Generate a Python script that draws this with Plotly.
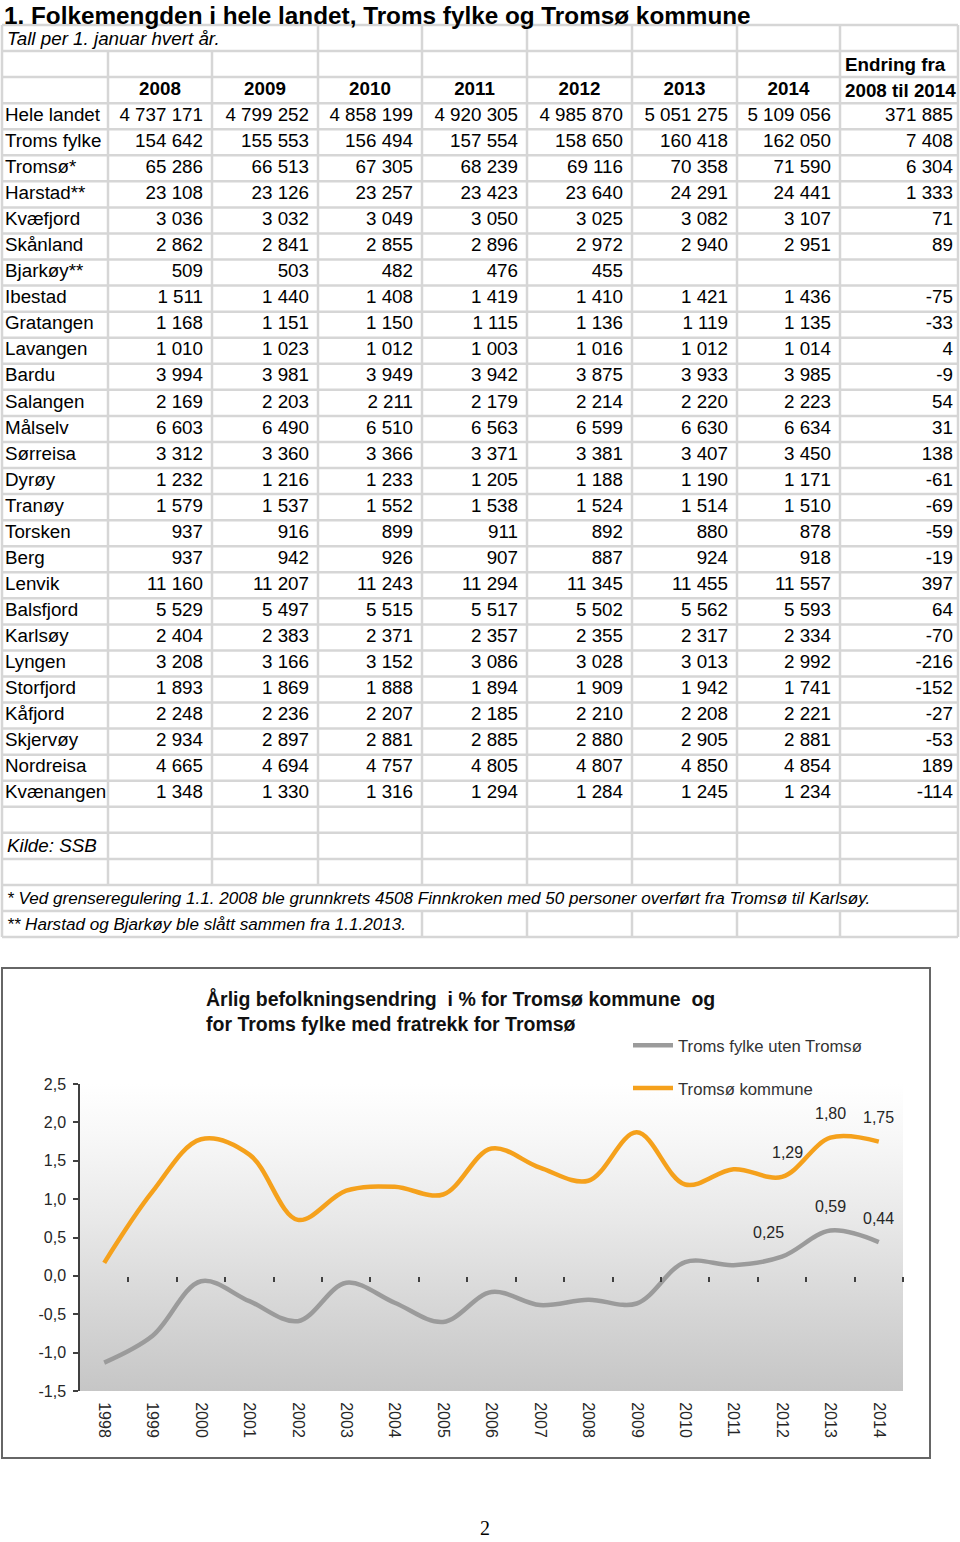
import plotly.graph_objects as go

# ---------------- data: table ----------------
table_title = "1. Folkemengden i hele landet, Troms fylke og Tromsø kommune"
table_subtitle = "Tall per 1. januar hvert år."
year_headers = ["2008", "2009", "2010", "2011", "2012", "2013", "2014"]
change_header = ["Endring fra", "2008 til 2014"]
municipalities = ["Hele landet", "Troms fylke", "Tromsø*", "Harstad**", "Kvæfjord", "Skånland",
                  "Bjarkøy**", "Ibestad", "Gratangen", "Lavangen", "Bardu", "Salangen", "Målselv",
                  "Sørreisa", "Dyrøy", "Tranøy", "Torsken", "Berg", "Lenvik", "Balsfjord", "Karlsøy",
                  "Lyngen", "Storfjord", "Kåfjord", "Skjervøy", "Nordreisa", "Kvænangen"]
pop_2008 = [4737171, 154642, 65286, 23108, 3036, 2862, 509, 1511, 1168, 1010, 3994, 2169, 6603, 3312,
            1232, 1579, 937, 937, 11160, 5529, 2404, 3208, 1893, 2248, 2934, 4665, 1348]
pop_2009 = [4799252, 155553, 66513, 23126, 3032, 2841, 503, 1440, 1151, 1023, 3981, 2203, 6490, 3360,
            1216, 1537, 916, 942, 11207, 5497, 2383, 3166, 1869, 2236, 2897, 4694, 1330]
pop_2010 = [4858199, 156494, 67305, 23257, 3049, 2855, 482, 1408, 1150, 1012, 3949, 2211, 6510, 3366,
            1233, 1552, 899, 926, 11243, 5515, 2371, 3152, 1888, 2207, 2881, 4757, 1316]
pop_2011 = [4920305, 157554, 68239, 23423, 3050, 2896, 476, 1419, 1115, 1003, 3942, 2179, 6563, 3371,
            1205, 1538, 911, 907, 11294, 5517, 2357, 3086, 1894, 2185, 2885, 4805, 1294]
pop_2012 = [4985870, 158650, 69116, 23640, 3025, 2972, 455, 1410, 1136, 1016, 3875, 2214, 6599, 3381,
            1188, 1524, 892, 887, 11345, 5502, 2355, 3028, 1909, 2210, 2880, 4807, 1284]
pop_2013 = [5051275, 160418, 70358, 24291, 3082, 2940, None, 1421, 1119, 1012, 3933, 2220, 6630, 3407,
            1190, 1514, 880, 924, 11455, 5562, 2317, 3013, 1942, 2208, 2905, 4850, 1245]
pop_2014 = [5109056, 162050, 71590, 24441, 3107, 2951, None, 1436, 1135, 1014, 3985, 2223, 6634, 3450,
            1171, 1510, 878, 918, 11557, 5593, 2334, 2992, 1741, 2221, 2881, 4854, 1234]
change_2008_2014 = [371885, 7408, 6304, 1333, 71, 89, None, -75, -33, 4, -9, 54, 31, 138, -61, -69,
                    -59, -19, 397, 64, -70, -216, -152, -27, -53, 189, -114]
source_text = "Kilde: SSB"
footnotes = ["* Ved grenseregulering 1.1. 2008 ble grunnkrets 4508 Finnkroken med 50 personer overført fra Tromsø til Karlsøy.",
             "** Harstad og Bjarkøy ble slått sammen fra 1.1.2013."]

# ---------------- data: chart ----------------
chart_title = "Årlig befolkningsendring\u00a0 i % for Tromsø kommune\u00a0 og<br>for Troms fylke med fratrekk for Tromsø"
chart_years = ["1998", "1999", "2000", "2001", "2002", "2003", "2004", "2005", "2006",
               "2007", "2008", "2009", "2010", "2011", "2012", "2013", "2014"]
troms_uten_pct = [-1.13, -0.78, -0.07, -0.33, -0.59, -0.09, -0.35, -0.60, -0.21,
                  -0.38, -0.31, -0.36, 0.18, 0.14, 0.25, 0.59, 0.44]
tromso_pct = [0.17, 1.10, 1.78, 1.58, 0.73, 1.11, 1.16, 1.06, 1.66,
              1.41, 1.24, 1.87, 1.19, 1.39, 1.29, 1.80, 1.75]
series_names = ["Troms fylke uten Tromsø", "Tromsø kommune"]
y_tick_vals = [-1.5, -1.0, -0.5, 0.0, 0.5, 1.0, 1.5, 2.0, 2.5]
y_tick_text = ["-1,5", "-1,0", "-0,5", "0,0", "0,5", "1,0", "1,5", "2,0", "2,5"]
labelled_years = ["2012", "2013", "2014"]
page_number = "2"

# ---------------- layout constants ----------------
W, H = 960, 1542
FONT = "Liberation Sans, Arial, sans-serif"
GRID = "#d6d6d6"
COL_EDGES = [2, 108, 212, 318, 422, 527, 632, 737, 840, 958]
ROW_TOP, ROW_H, N_ROWS = 25, 26.06, 35
TABLE_BOTTOM = 950
FIRST_DATA_ROW = 3
TS = 18.8


def py(p):
    return 1 - p / H


def row_y(r):
    return ROW_TOP + ROW_H * r


def row_c(r):
    return ROW_TOP + ROW_H * (r + 0.5)


def fmt(v):
    if v is None:
        return ""
    return f"{v:,}".replace(",", " ")


def fmt_dec(v):
    return f"{v:.2f}".replace(".", ",")


fig = go.Figure()

# ---------------- table (x2/y2 in pixel units) ----------------
data_rows_y = [row_c(FIRST_DATA_ROW + i) for i in range(len(municipalities))]
tfont = dict(family=FONT, size=TS, color="#000000")

fig.add_trace(go.Scatter(x=[COL_EDGES[0] + 3] * len(municipalities), y=data_rows_y,
                         text=municipalities, mode="text", textposition="middle right",
                         textfont=tfont, xaxis="x2", yaxis="y2", showlegend=False, hoverinfo="skip"))
for j, col in enumerate([pop_2008, pop_2009, pop_2010, pop_2011, pop_2012, pop_2013, pop_2014]):
    fig.add_trace(go.Scatter(x=[COL_EDGES[j + 2] - 9] * len(col), y=data_rows_y,
                             text=[fmt(v) for v in col], mode="text", textposition="middle left",
                             textfont=tfont, xaxis="x2", yaxis="y2", showlegend=False, hoverinfo="skip"))
fig.add_trace(go.Scatter(x=[COL_EDGES[9] - 5] * len(change_2008_2014), y=data_rows_y,
                         text=[fmt(v) for v in change_2008_2014], mode="text", textposition="middle left",
                         textfont=tfont, xaxis="x2", yaxis="y2", showlegend=False, hoverinfo="skip"))
fig.add_trace(go.Scatter(x=[(COL_EDGES[j + 1] + COL_EDGES[j + 2]) / 2 for j in range(len(year_headers))],
                         y=[row_c(2)] * len(year_headers), text=year_headers, mode="text",
                         textposition="middle center",
                         textfont=dict(family=FONT, size=TS, color="#000000", weight="bold"),
                         xaxis="x2", yaxis="y2", showlegend=False, hoverinfo="skip"))

shapes = []
for r in range(N_ROWS + 1):
    shapes.append(dict(type="line", xref="x2", yref="y2", x0=COL_EDGES[0], x1=COL_EDGES[-1],
                       y0=row_y(r), y1=row_y(r), line=dict(color=GRID, width=2.5), layer="below"))
for e in COL_EDGES:
    if e in (COL_EDGES[0], COL_EDGES[-1]):
        segs = [(0, N_ROWS)]
    elif e in (COL_EDGES[1], COL_EDGES[2]):
        segs = [(1, 33)]
    elif e == COL_EDGES[3]:
        segs = [(0, 33)]
    else:
        segs = [(0, 33), (34, 35)]
    for a, b in segs:
        shapes.append(dict(type="line", xref="x2", yref="y2", x0=e, x1=e, y0=row_y(a), y1=row_y(b),
                           line=dict(color=GRID, width=2.5), layer="below"))

annotations = []


def ann_px(text, x, y, size, bold=False, italic=False, xanchor="left", family=FONT, color="#000000",
           yanchor="middle"):
    annotations.append(dict(text=text, x=x / W, y=py(y), xref="paper", yref="paper", xanchor=xanchor,
                            yanchor=yanchor, showarrow=False,
                            font=dict(family=family, size=size, color=color,
                                      weight="bold" if bold else "normal",
                                      style="italic" if italic else "normal")))


ann_px(table_title, 2, 0, 24.3, bold=True, yanchor="top")
ann_px(table_subtitle, 5, row_c(0), TS, italic=True)
ann_px(change_header[0], COL_EDGES[8] + 3, row_c(1), TS, bold=True)
ann_px(change_header[1], COL_EDGES[8] + 3, row_c(2), TS, bold=True)
ann_px(source_text, 5, row_c(31), TS, italic=True)
ann_px(footnotes[0], 5, row_c(33), 17.1, italic=True)
ann_px(footnotes[1], 5, row_c(34), 17.1, italic=True)
ann_px(page_number, 485, 1528, 20, family="Liberation Serif, Times New Roman, serif", xanchor="center")

# ---------------- chart ----------------
xs = list(range(len(chart_years)))
x_lo, x_hi = -0.5, len(chart_years) - 0.5
y_lo, y_hi = y_tick_vals[0], y_tick_vals[-1]

# gradient plot background
fig.add_trace(go.Scatter(x=[x_lo, x_hi, x_hi, x_lo, x_lo], y=[y_hi, y_hi, y_lo, y_lo, y_hi],
                         mode="lines", fill="toself", line=dict(width=0),
                         fillgradient=dict(type="vertical",
                                           colorscale=[[0, "#c6c6c6"], [0.3, "#d8d8d8"], [0.55, "#e8e8e8"],
                                                       [0.8, "#f6f6f6"], [1, "#ffffff"]]),
                         showlegend=False, hoverinfo="skip"))

colors = ["#9b9b9b", "#f5a11c"]
widths = [4.5, 4.5]
for name, vals, c, w in zip(series_names, [troms_uten_pct, tromso_pct], colors, widths):
    fig.add_trace(go.Scatter(x=xs, y=vals, name=name, mode="lines",
                             line=dict(color=c, width=w, shape="spline", smoothing=1.0),
                             legendgroup=name, hoverinfo="skip"))

# dummy trace to host tick axis at zero
fig.add_trace(go.Scatter(x=[], y=[], xaxis="x3", yaxis="y", showlegend=False, hoverinfo="skip"))

# data labels
label_offsets = {("Tromsø kommune", "2012"): 6, ("Troms fylke uten Tromsø", "2012"): -13}
for name, vals in zip(series_names, [troms_uten_pct, tromso_pct]):
    for yr in labelled_years:
        i = chart_years.index(yr)
        annotations.append(dict(text=fmt_dec(vals[i]), x=xs[i], y=vals[i], xref="x", yref="y",
                                showarrow=False, yshift=24, xshift=label_offsets.get((name, yr), 0),
                                font=dict(family=FONT, size=16, color="#262626")))

# chart title
annotations.append(dict(text=chart_title, x=204 / W, y=py(985), xref="paper", yref="paper",
                        xanchor="left", yanchor="top", align="left", showarrow=False,
                        font=dict(family=FONT, size=19.5, color="#111111", weight="bold")))

# chart frame
shapes.append(dict(type="rect", xref="paper", yref="paper", x0=2 / W, x1=930 / W, y0=py(1458), y1=py(968),
                   line=dict(color="#666666", width=2), fillcolor="rgba(0,0,0,0)", layer="below"))

x_dom = [80 / W, 903 / W]
y_dom = [py(1391), py(1084)]
zero_pos = y_dom[0] + (0 - y_lo) / (y_hi - y_lo) * (y_dom[1] - y_dom[0])

fig.update_layout(
    width=W, height=H, margin=dict(l=0, r=0, t=0, b=0, pad=0, autoexpand=False),
    paper_bgcolor="white", plot_bgcolor="rgba(0,0,0,0)",
    font=dict(family=FONT, color="#262626"),
    hovermode=False,
    showlegend=True,
    legend=dict(x=628 / W, y=py(1028), xanchor="left", yanchor="top", bgcolor="rgba(0,0,0,0)",
                font=dict(family=FONT, size=16.7, color="#333333"), tracegroupgap=18,
                itemwidth=40, traceorder="grouped"),
    xaxis=dict(domain=x_dom, range=[x_lo, x_hi], tickvals=xs, ticktext=chart_years, tickangle=90,
               showline=False, showgrid=False, zeroline=False, ticks="outside", ticklen=7,
               tickcolor="rgba(0,0,0,0)", tickfont=dict(family=FONT, size=16, color="#262626"),
               anchor="y", fixedrange=True, automargin=False),
    xaxis3=dict(overlaying="x", anchor="free", position=zero_pos, range=[x_lo, x_hi],
                tickvals=[v + 0.5 for v in xs], showticklabels=False, ticks="outside", ticklen=5,
                tickwidth=1.5, tickcolor="#404040", showline=False, showgrid=False, zeroline=False,
                automargin=False),
    yaxis=dict(domain=y_dom, range=[y_lo, y_hi], tickvals=y_tick_vals, ticktext=y_tick_text,
               showline=True, linecolor="#404040", linewidth=1.5, ticks="outside", ticklen=5,
               tickwidth=1.5, tickcolor="#404040", showgrid=False, zeroline=True,
               zerolinecolor="#404040", zerolinewidth=2, ticklabelstandoff=4,
               tickfont=dict(family=FONT, size=16, color="#262626"), fixedrange=True, automargin=False),
    xaxis2=dict(domain=[0, 1], range=[0, W], visible=False, anchor="y2", fixedrange=True, automargin=False),
    yaxis2=dict(domain=[1 - TABLE_BOTTOM / H, 1], range=[TABLE_BOTTOM, 0], visible=False,
                anchor="x2", fixedrange=True, automargin=False),
    shapes=shapes,
    annotations=annotations,
)

fig.write_html("out.html", config={"displayModeBar": False},
               post_script="document.body.style.margin='0';document.body.style.overflow='hidden';")
